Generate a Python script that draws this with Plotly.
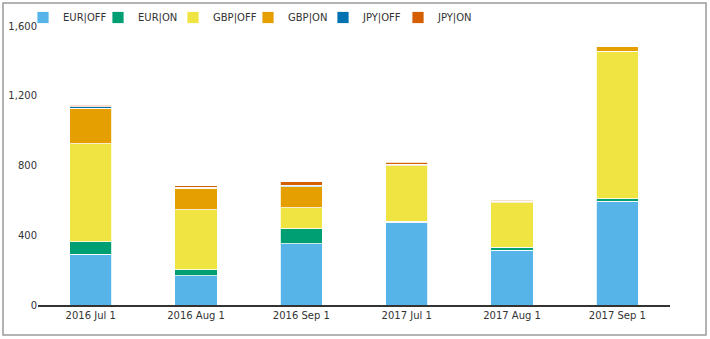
import plotly.graph_objects as go

categories = ["2016 Jul 1", "2016 Aug 1", "2016 Sep 1", "2017 Jul 1", "2017 Aug 1", "2017 Sep 1"]
series_names = ["EUR|OFF", "EUR|ON", "GBP|OFF", "GBP|ON", "JPY|OFF", "JPY|ON"]
eur_off = [292, 168, 352, 476, 313, 594]
eur_on = [71, 33, 86, 3, 17, 15]
gbp_off = [562, 346, 120, 320, 255, 845]
gbp_on = [203, 122, 121, 9, 6, 27]
jpy_off = [8, 7, 9, 0, 5, 0]
jpy_on = [10, 8, 19, 10, 5, 0]
colors = ["#56B4E9", "#009E73", "#F0E442", "#E69F00", "#0072B2", "#D55E00"]
y_ticks = [0, 400, 800, 1200, 1600]
y_tick_labels = ["0", "400", "800", "1,200", "1,600"]

series_values = [eur_off, eur_on, gbp_off, gbp_on, jpy_off, jpy_on]

fig = go.Figure()
for name, vals, col in zip(series_names, series_values, colors):
    fig.add_trace(go.Bar(
        x=categories, y=vals, name=name,
        marker=dict(color=col, line=dict(color="white", width=0.8)),
    ))

fig.update_layout(
    barmode="stack",
    bargap=0.6,
    width=710, height=339,
    margin=dict(l=38, r=40, t=26, b=34, autoexpand=False),
    paper_bgcolor="white",
    plot_bgcolor="white",
    font=dict(family="DejaVu Sans, Verdana, sans-serif", size=10, color="#333333"),
    legend=dict(
        orientation="h", x=(23 - 38) / 632, xanchor="left", y=1 + 23 / 279, yanchor="top",
        font=dict(size=10, color="#333333"),
        entrywidth=30, itemwidth=30, traceorder="normal",
        bgcolor="rgba(0,0,0,0)",
    ),
    xaxis=dict(
        type="category", showgrid=False, showline=True, linecolor="#333333",
        linewidth=1.5, ticks="", zeroline=False,
    ),
    yaxis=dict(
        range=[0, 1600], tickvals=y_ticks, ticktext=y_tick_labels,
        showgrid=False, showline=False, zeroline=False, ticks="",
    ),
    shapes=[dict(
        type="rect", xref="paper", yref="paper",
        x0=(3 - 38) / 632, x1=(706 - 38) / 632,
        y0=(305 - 335) / 279, y1=(305 - 3) / 279,
        line=dict(color="#9a9a9a", width=1.5), fillcolor="rgba(0,0,0,0)",
        layer="below",
    )],
)

fig.write_html("out.html")
